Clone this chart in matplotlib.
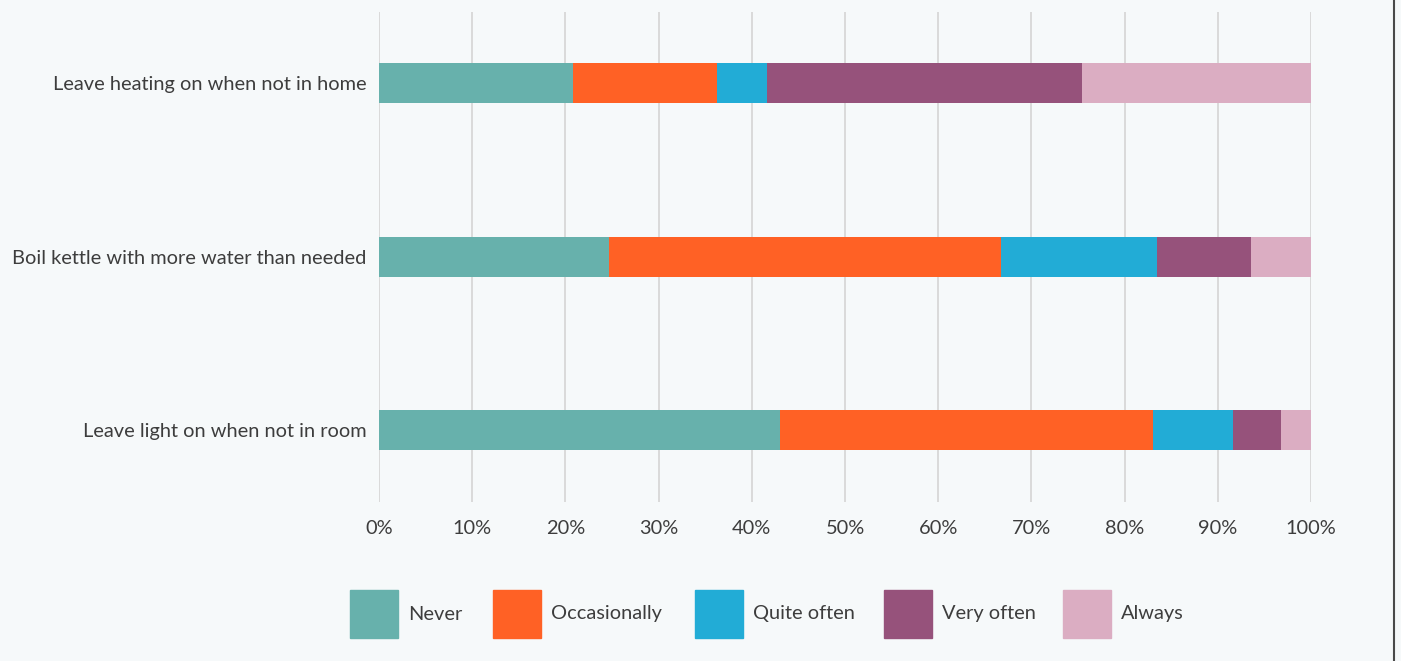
import matplotlib.pyplot as plt
from matplotlib.lines import Line2D
from matplotlib.patches import Rectangle

plt.rcParams['font.family'] = ['Lato', 'DejaVu Sans']

behaviours = ['Leave heating on when not in home',
              'Boil kettle with more water than needed',
              'Leave light on when not in room']
answers = ['Never', 'Occasionally', 'Quite often', 'Very often', 'Always']

# share of respondents (%) per answer, one list per behaviour
heating = [20.8, 15.5, 5.3, 33.8, 24.6]
kettle = [24.7, 42.0, 16.8, 10.1, 6.4]
light = [43.0, 40.1, 8.5, 5.2, 3.2]
shares = [heating, kettle, light]

colors = ['#67b1ac', '#ff6125', '#22acd6', '#96527b', '#dbadc2']
bg = '#f6f9fa'
text_col = '#3d3d3d'
W, H = 1401, 661

fig = plt.figure(figsize=(W / 100, H / 100), dpi=100, facecolor=bg)
ax = fig.add_axes([379 / W, 1 - 502 / H, (1311 - 379) / W, 490 / H])
ax.set_facecolor(bg)

left = [0.0] * len(behaviours)
for j, answer in enumerate(answers):
    vals = [row[j] for row in shares]
    ax.barh(range(len(behaviours)), vals, left=left, height=0.23,
            color=colors[j], label=answer, zorder=3)
    left = [l + v for l, v in zip(left, vals)]

ax.set_xlim(0, 100)
ax.set_ylim(2.413, -0.41)
ax.set_xticks(range(0, 101, 10))
ax.set_xticklabels([f'{t}%' for t in range(0, 101, 10)])
ax.set_yticks(range(len(behaviours)))
ax.set_yticklabels(behaviours)
ax.tick_params(axis='both', length=0, labelsize=14.4, labelcolor=text_col)
ax.tick_params(axis='x', pad=13)
ax.tick_params(axis='y', pad=9)
ax.grid(axis='x', color='#dadada', linewidth=1.4, zorder=0)
for s in ax.spines.values():
    s.set_visible(False)

# legend row: coloured squares with labels beside them
box_x = [350, 493, 695, 884, 1063]
for x, c, answer in zip(box_x, colors, answers):
    fig.add_artist(Rectangle((x / W, 1 - 638 / H), 48 / W, 48 / H,
                             transform=fig.transFigure, color=c))
    fig.text((x + 58) / W, 1 - 614 / H, answer, fontsize=14.4,
             color=text_col, va='center', ha='left')

# right-hand frame line
fig.add_artist(Line2D([1394 / W, 1394 / W], [0, 1], color='#4a4a4a',
                      linewidth=1.5, transform=fig.transFigure))

fig.savefig('out.png', dpi=100, facecolor=bg)
